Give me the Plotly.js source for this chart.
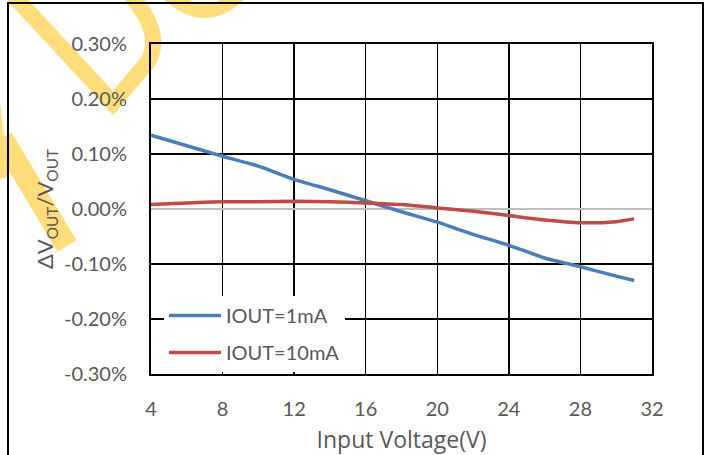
<!DOCTYPE html>
<html>
<head>
<meta charset="utf-8">
<script src="https://cdn.plot.ly/plotly-3.0.1.min.js"></script>
<style>
  html, body { margin: 0; padding: 0; background: #fff; }
  #chart { width: 711px; height: 455px; }
</style>
</head>
<body>
<div id="chart"></div>
<script>
// ---- Data (ΔVout/Vout in %) ----
const inputVoltage = [4, 6, 8, 10, 12, 14, 16, 18, 20, 22, 24, 26, 28, 30, 31];
const iout1mA  = [0.134, 0.115, 0.096, 0.078, 0.054, 0.035, 0.015, -0.005, -0.024, -0.046, -0.066, -0.089, -0.105, -0.122, -0.130];
const iout10mA = [0.008, 0.011, 0.013, 0.013, 0.014, 0.013, 0.011, 0.008, 0.002, -0.004, -0.012, -0.020, -0.025, -0.023, -0.018];
const seriesNames = ['IOUT=1mA', 'IOUT=10mA'];
const xTicks = [4, 8, 12, 16, 20, 24, 28, 32];
const yTicks = [-0.3, -0.2, -0.1, 0, 0.1, 0.2, 0.3];
const yTickText = ['-0.30%', '-0.20%', '-0.10%', '0.00%', '0.10%', '0.20%', '0.30%'];

// ---- Layout geometry (pixels) ----
const W = 711, H = 455;
const M = { l: 151, r: 59, t: 44, b: 81 };
const PW = W - M.l - M.r, PH = H - M.t - M.b;
const px = x => ((x - M.l) / PW).toFixed(4);
const py = y => ((H - M.b - y) / PH).toFixed(4);
function pathFromPixels(cmds) {
  return cmds.map(c => c[0] + ' ' + c.slice(1).reduce((a, v, i) => {
    a.push(i % 2 === 0 ? px(v) : py(v)); return a; }, []).join(',')).join(' ');
}

const wmColor = 'rgb(255,221,122)';
const watermark = [
  { cmds: [['M', 12, -6], ['L', 113, 103], ['L', 148, 62], ['Q', 164, 34, 131, -4]], w: 16 },
  { cmds: [['M', 168, -6], ['Q', 205, 28, 240, -6]], w: 14 },
  { cmds: [['M', -4, 106], ['L', 4, 178]], w: 9 },
  { cmds: [['M', 2, 138], ['L', 67, 246]], w: 22 }
].map(s => ({
  type: 'path', xref: 'paper', yref: 'paper', layer: 'below',
  path: pathFromPixels(s.cmds),
  line: { color: wmColor, width: s.w }
}));

const border = {
  type: 'rect', xref: 'paper', yref: 'paper', layer: 'above',
  x0: px(8), x1: px(703), y0: py(470), y1: py(3),
  line: { color: '#000', width: 2 }, fillcolor: 'rgba(0,0,0,0)'
};

const FONT = 'Lato, "Open Sans", sans-serif';
const GRAY = '#595959';

const traces = [
  { x: inputVoltage, y: iout1mA, name: seriesNames[0], legendgroup: 'a', type: 'scatter', mode: 'lines',
    line: { color: '#4A7EBB', width: 3.5, shape: 'spline', smoothing: 0.6 } },
  { x: inputVoltage, y: iout10mA, name: seriesNames[1], legendgroup: 'b', type: 'scatter', mode: 'lines',
    line: { color: '#BE4B48', width: 3.5, shape: 'spline', smoothing: 0.6 } }
];

const layout = {
  width: W, height: H,
  margin: M,
  paper_bgcolor: '#fff',
  plot_bgcolor: 'rgba(0,0,0,0)',
  font: { family: FONT, color: GRAY, size: 20 },
  showlegend: true,
  legend: {
    x: px(164), y: py(296), xanchor: 'left', yanchor: 'top',
    bgcolor: '#fff', borderwidth: 0,
    font: { family: FONT, size: 20, color: GRAY },
    traceorder: 'grouped', tracegroupgap: 8, itemwidth: 52
  },
  xaxis: {
    range: [4, 32], tickvals: xTicks, ticktext: xTicks.map(String),
    showgrid: true, gridcolor: '#000', gridwidth: 1.5,
    showline: true, linecolor: '#000', linewidth: 2, mirror: true,
    zeroline: false, ticks: '', ticklabelstandoff: 16,
    tickfont: { family: FONT, size: 20, color: GRAY },
    title: { text: 'Input Voltage(V)', font: { family: '"Open Sans", Lato, sans-serif', size: 23, color: GRAY }, standoff: 15 },
    automargin: false, fixedrange: true
  },
  yaxis: {
    range: [-0.3, 0.3], tickvals: yTicks, ticktext: yTickText,
    showgrid: true, gridcolor: '#000', gridwidth: 1.5,
    showline: true, linecolor: '#000', linewidth: 2, mirror: true,
    zeroline: true, zerolinecolor: '#BFBFBF', zerolinewidth: 2.2,
    ticks: '', ticklabelstandoff: 18,
    tickfont: { family: FONT, size: 20, color: GRAY },
    title: { text: 'ΔV<sub>OUT</sub>/V<sub>OUT</sub>', font: { family: FONT, size: 22, color: GRAY }, standoff: 4 },
    automargin: false, fixedrange: true
  },
  shapes: watermark.concat([border])
};

Plotly.newPlot('chart', traces, layout, { displayModeBar: false, staticPlot: true });
</script>
</body>
</html>
